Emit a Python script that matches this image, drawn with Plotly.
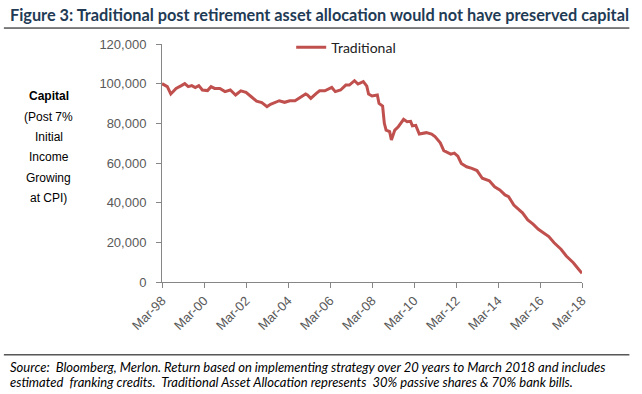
import plotly.graph_objects as go

dates = ["1998-03","1998-06","1998-08","1998-11","1999-02","1999-04","1999-06","1999-08","1999-10","1999-12",
         "2000-02","2000-05","2000-07","2000-09","2000-12","2001-03","2001-06","2001-09","2001-12","2002-03",
         "2002-06","2002-09","2002-12","2003-03","2003-05","2003-08","2003-10","2004-01","2004-04","2004-07",
         "2004-10","2005-01","2005-02","2005-04","2005-07","2005-09","2005-12","2006-04","2006-06","2006-09",
         "2006-12","2007-02","2007-05","2007-07","2007-10","2007-12","2008-01","2008-03","2008-06","2008-07",
         "2008-09","2008-10","2008-11","2009-01","2009-02","2009-04","2009-06","2009-09","2009-11","2010-01",
         "2010-02","2010-04","2010-06","2010-08","2010-10","2011-01","2011-03","2011-06","2011-08","2011-10",
         "2011-12","2012-02","2012-04","2012-06","2012-09","2012-12","2013-03","2013-06","2013-08","2013-10",
         "2014-01","2014-04","2014-07","2014-09","2014-12","2015-02","2015-05","2015-08","2015-11","2016-02",
         "2016-05","2016-08","2016-11","2017-03","2017-06","2017-10","2018-01","2018-03"]
traditional = [100000,98500,94800,97600,99000,100000,98500,99000,98000,99000,
               96800,96500,98500,97600,97600,96000,96800,94300,96400,95600,
               93400,91200,90500,88400,89600,90500,91400,90600,91400,91400,
               93100,94800,94300,92600,95000,96400,96400,98100,96000,96800,
               99300,99300,101500,99800,101000,98800,94800,93800,94300,90000,
               88700,80000,76600,75800,71600,76600,78300,82000,80800,81000,
               78700,79000,74600,75000,75300,74600,73300,70200,66200,65400,
               64500,65000,63500,59800,58100,57300,56200,52300,51500,51000,
               48000,46400,43900,43000,38800,37200,34900,31300,29200,26600,
               24900,22900,19800,16500,13100,9700,6400,4400]
dates = [d + "-01" for d in dates]

y_ticks = [0, 20000, 40000, 60000, 80000, 100000, 120000]
y_title_lines = ["<b>Capital</b>", "(Post 7%", "Initial", "Income", "Growing", "at CPI)"]

title = "Figure 3: Traditional post retirement asset allocation would not have preserved capital"
footer1 = "Source:  Bloomberg, Merlon. Return based on implementing strategy over 20 years to March 2018 and includes"
footer2 = "estimated  franking credits.  Traditional Asset Allocation represents  30% passive shares & 70% bank bills."

W, H = 642, 394
L, R, T, B = 161.5, 59.5, 43.5, 112
pw, ph = W - L - R, H - T - B
def px(x): return (x - L) / pw
def py(y): return (H - B - y) / ph

fig = go.Figure()
fig.add_trace(go.Scatter(x=dates, y=traditional, mode="lines", name="Traditional",
                         line=dict(color="#C0504D", width=3)))

grey = "#595959"
axcol = "#868686"
fig.update_layout(
    width=W, height=H,
    margin=dict(l=L, r=R, t=T, b=B),
    paper_bgcolor="white", plot_bgcolor="white",
    showlegend=True,
    legend=dict(x=px(291), y=py(31), xanchor="left", yanchor="top",
                font=dict(family="Lato", size=14, color="#222222"),
                bgcolor="rgba(0,0,0,0)", itemwidth=30),
    xaxis=dict(type="date", range=["1998-03-01", "2018-03-01"], tick0="1998-03-01", dtick="M24",
               tickformat="%b-%y", tickangle=-45, showgrid=False, zeroline=False,
               showline=True, linecolor=axcol, linewidth=1, ticks="outside", ticklen=5,
               tickcolor=axcol, tickfont=dict(family="Liberation Sans", size=13, color=grey)),
    yaxis=dict(range=[0, 120000], tickvals=y_ticks, tickformat=",d", showgrid=False, zeroline=False,
               showline=True, linecolor=axcol, linewidth=1, ticks="outside", ticklen=5,
               ticklabelstandoff=7,
               tickcolor=axcol, tickfont=dict(family="Liberation Sans", size=13, color=grey)),
)

anns = []
anns.append(dict(text="<b>" + title + "</b>", x=px(7), y=py(14), xref="paper", yref="paper",
                 xanchor="left", yanchor="middle", showarrow=False,
                 font=dict(family="Lato", size=16.3, color="#1F3B55")))
line_y = [96, 117, 137, 157, 178, 198]
for t, yy in zip(y_title_lines, line_y):
    anns.append(dict(text=t, x=px(48), y=py(yy), xref="paper", yref="paper",
                     xanchor="center", yanchor="middle", showarrow=False,
                     font=dict(family="Liberation Sans", size=12, color="#000000")))
anns.append(dict(text="<i>" + footer1 + "</i>", x=px(7), y=py(367), xref="paper", yref="paper",
                 xanchor="left", yanchor="middle", showarrow=False,
                 font=dict(family="Lato", size=13, color="#000000")))
anns.append(dict(text="<i>" + footer2 + "</i>", x=px(7), y=py(382), xref="paper", yref="paper",
                 xanchor="left", yanchor="middle", showarrow=False,
                 font=dict(family="Lato", size=13, color="#000000")))
fig.update_layout(annotations=anns)

fig.add_shape(type="line", xref="paper", yref="paper", x0=px(3), x1=px(630), y0=py(27.5), y1=py(27.5),
              line=dict(color="#000000", width=1))
fig.add_shape(type="line", xref="paper", yref="paper", x0=px(3), x1=px(630), y0=py(355), y1=py(355),
              line=dict(color="#000000", width=1))

fig.write_html("out.html", config={"displayModeBar": False},
               post_script="document.body.style.margin='0';document.body.style.overflow='hidden';")
